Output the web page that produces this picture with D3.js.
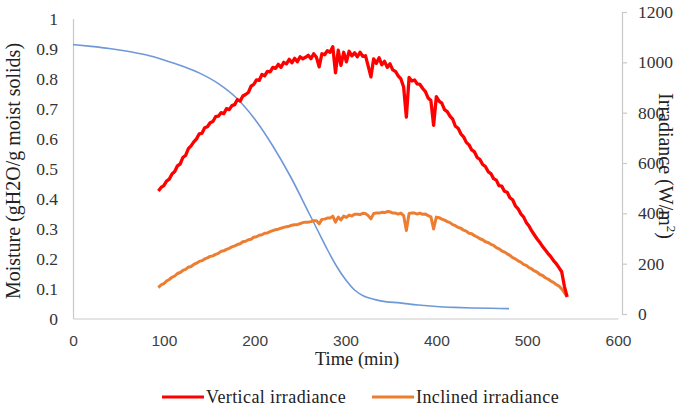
<!DOCTYPE html>
<html>
<head>
<meta charset="utf-8">
<script src="https://cdn.jsdelivr.net/npm/d3@7"></script>
<style>
  html, body { margin: 0; padding: 0; background: #fff; }
  svg { display: block; }
</style>
</head>
<body>
<svg id="chart" width="685" height="406"></svg>
<script>
// ---------- data ----------
const moistureTime = [0, 20, 40, 60, 80, 100, 120, 140, 160, 180, 200, 220, 240, 260, 270, 280, 290, 300, 310, 320, 330, 340, 360, 380, 400, 420, 440, 460, 480];
const moisture = [0.913, 0.907, 0.900, 0.891, 0.879, 0.862, 0.842, 0.817, 0.783, 0.735, 0.665, 0.575, 0.470, 0.350, 0.290, 0.230, 0.175, 0.130, 0.095, 0.075, 0.065, 0.058, 0.052, 0.045, 0.040, 0.037, 0.035, 0.034, 0.033];

const irrTime = [
  94, 97, 100, 103, 106, 109, 112, 115, 118, 121,
  124, 127, 130, 133, 136, 139, 142, 145, 148, 151,
  154, 157, 160, 163, 166, 169, 172, 175, 178, 181,
  184, 187, 190, 193, 196, 199, 202, 205, 208, 211,
  214, 217, 220, 223, 226, 229, 232, 235, 238, 241,
  244, 247, 250, 253, 256, 259, 262, 265, 268, 271,
  274, 277, 280, 283, 286, 289, 292, 295, 298, 301,
  304, 307, 310, 313, 316, 319, 322, 325, 328, 331,
  334, 337, 340, 343, 346, 349, 352, 355, 358, 361,
  364, 367, 370, 373, 376, 379, 382, 385, 388, 391,
  394, 397, 400, 403, 406, 409, 412, 415, 418, 421,
  424, 427, 430, 433, 436, 439, 442, 445, 448, 451,
  454, 457, 460, 463, 466, 469, 472, 475, 478, 481,
  484, 487, 490, 493, 496, 499, 502, 505, 508, 511,
  514, 517, 520, 523, 526, 529, 532, 535, 538, 541,
  544
];
const verticalIrr = [
  489, 503, 510, 528, 536, 556, 566, 589, 596, 622,
  630, 657, 668, 684, 696, 716, 718, 740, 744, 760,
  765, 784, 786, 800, 796, 816, 812, 828, 832, 852,
  846, 866, 872, 880, 905, 912, 930, 928, 952, 946,
  964, 962, 980, 976, 992, 980, 1000, 994, 1012, 998,
  1016, 1002, 1022, 1014, 1020, 1028, 1014, 1034, 1020, 982,
  1034, 1030, 1046, 1040, 1062, 958, 1048, 988, 1040, 1002,
  1044, 1026, 1038, 1022, 1040, 1024, 1026, 985, 942, 1014,
  996, 1018, 990, 1004, 980, 994, 970, 964, 946, 934,
  902, 782, 940, 926, 930, 914, 912, 896, 884, 858,
  848, 750, 864, 846, 838, 812, 804, 786, 774, 746,
  738, 716, 704, 682, 672, 652, 644, 622, 614, 594,
  586, 566, 558, 538, 532, 510, 508, 488, 484, 462,
  454, 430, 418, 398, 386, 364, 350, 330, 314, 298,
  284, 268, 254, 240, 228, 212, 200, 184, 168, 110,
  68
];
const inclinedIrr = [
  105, 116, 121, 131, 137, 146, 151, 161, 165, 173,
  177, 186, 189, 197, 202, 209, 212, 219, 223, 229,
  231, 237, 241, 249, 251, 257, 261, 267, 271, 276,
  279, 287, 289, 295, 297, 305, 307, 313, 315, 321,
  322, 327, 331, 335, 337, 341, 344, 347, 349, 353,
  355, 355, 359, 363, 365, 365, 367, 371, 371, 358,
  376, 377, 381, 381, 389, 365, 385, 374, 389, 384,
  393, 389, 396, 396, 395, 400, 399, 391, 378, 399,
  401, 401, 404, 403, 407, 406, 401, 401, 397, 401,
  391, 332, 399, 401, 401, 397, 401, 396, 397, 391,
  386, 338, 385, 383, 377, 373, 367, 363, 355, 351,
  344, 341, 333, 329, 321, 319, 311, 306, 299, 295,
  287, 284, 277, 273, 264, 259, 251, 246, 239, 233,
  224, 219, 211, 206, 197, 193, 184, 179, 171, 166,
  157, 153, 144, 139, 131, 126, 117, 111, 100, 85,
  68
];

const xTicks = [0, 100, 200, 300, 400, 500, 600];
const leftTicks = [0, 0.1, 0.2, 0.3, 0.4, 0.5, 0.6, 0.7, 0.8, 0.9, 1];
const leftTickLabels = ["0", "0.1", "0.2", "0.3", "0.4", "0.5", "0.6", "0.7", "0.8", "0.9", "1"];
const rightTicks = [0, 200, 400, 600, 800, 1000, 1200];
const legendLabels = ["Vertical irradiance", "Inclined irradiance"];

// ---------- drawing ----------
const svg = d3.select("#chart");
const SERIF = "Liberation Serif";
const SANS = "Liberation Sans";
const axisColor = "#c9c9c9";

const x = d3.scaleLinear().domain([0, 600]).range([73, 618]);
const yL = d3.scaleLinear().domain([0, 1]).range([318.5, 18.5]);
const yR = d3.scaleLinear().domain([0, 1200]).range([314, 12]);

// x axis
const gx = svg.append("g").attr("transform", `translate(0,${yL(0)})`)
  .call(d3.axisBottom(x).tickValues(xTicks).tickSize(0).tickPadding(16).tickFormat(d3.format("d")));
gx.select(".domain").attr("stroke", axisColor).attr("stroke-width", 1.2);
gx.selectAll("text").style("font-family", SANS).style("font-size", "15.5px").attr("fill", "#404040");

// left axis
const gl = svg.append("g").attr("transform", `translate(${x(0)},0)`)
  .call(d3.axisLeft(yL).tickValues(leftTicks).tickSize(0).tickPadding(15)
    .tickFormat((d, i) => leftTickLabels[i]));
gl.select(".domain").attr("stroke", axisColor).attr("stroke-width", 1.2);
gl.selectAll("text").style("font-family", SERIF).style("font-size", "17.5px").attr("fill", "#333");

// right axis
const gr = svg.append("g").attr("transform", "translate(622,0)")
  .call(d3.axisRight(yR).tickValues(rightTicks).tickSize(5).tickPadding(11).tickFormat(d3.format("d")));
gr.select(".domain").attr("stroke", axisColor).attr("stroke-width", 1.2);
gr.selectAll(".tick line").attr("stroke", axisColor).attr("stroke-width", 1.2);
gr.selectAll("text").style("font-family", SERIF).style("font-size", "17.5px").attr("fill", "#333");

// lines
const moistData = moistureTime.map((t, i) => [t, moisture[i]]);
const vertData = irrTime.map((t, i) => [t, verticalIrr[i]]);
const inclData = irrTime.map((t, i) => [t, inclinedIrr[i]]);

const lineL = d3.line().x(d => x(d[0])).y(d => yL(d[1])).curve(d3.curveMonotoneX);
const lineR = d3.line().x(d => x(d[0])).y(d => yR(d[1]));

svg.append("path").datum(moistData).attr("d", lineL)
  .attr("fill", "none").attr("stroke", "#6f98d8").attr("stroke-width", 1.6);
svg.append("path").datum(inclData).attr("d", lineR)
  .attr("fill", "none").attr("stroke", "#ed7d31").attr("stroke-width", 3).attr("stroke-linejoin", "round");
svg.append("path").datum(vertData).attr("d", lineR)
  .attr("fill", "none").attr("stroke", "#ff0000").attr("stroke-width", 3.3).attr("stroke-linejoin", "round");

// axis titles
svg.append("text").attr("x", 357).attr("y", 365).attr("text-anchor", "middle")
  .style("font-family", SERIF).style("font-size", "18.5px").attr("fill", "#222").text("Time (min)");

svg.append("text").attr("transform", "translate(20,171) rotate(-90)").attr("text-anchor", "middle")
  .style("font-family", SERIF).style("font-size", "20px").attr("fill", "#222")
  .text("Moisture (gH2O/g moist solids)");

const rt = svg.append("text").attr("transform", "translate(659,166) rotate(90)").attr("text-anchor", "middle")
  .style("font-family", SERIF).style("font-size", "20px").attr("fill", "#222");
rt.append("tspan").text("Irradiance (W/m");
rt.append("tspan").style("font-size", "13px").attr("dy", -8).text("2");
rt.append("tspan").attr("dy", 8).text(")");

// legend
const legendColors = ["#ff0000", "#ed7d31"];
const legendX = [162, 372];
legendLabels.forEach((lab, i) => {
  const g = svg.append("g").attr("transform", `translate(${legendX[i]},397)`);
  g.append("line").attr("x1", 0).attr("x2", 42).attr("y1", 0).attr("y2", 0)
    .attr("stroke", legendColors[i]).attr("stroke-width", 3);
  g.append("text").attr("x", 44).attr("y", 6)
    .style("font-family", SERIF).style("font-size", "18px").style("letter-spacing", "0.4px")
    .attr("fill", "#222").text(lab);
});
</script>
</body>
</html>
